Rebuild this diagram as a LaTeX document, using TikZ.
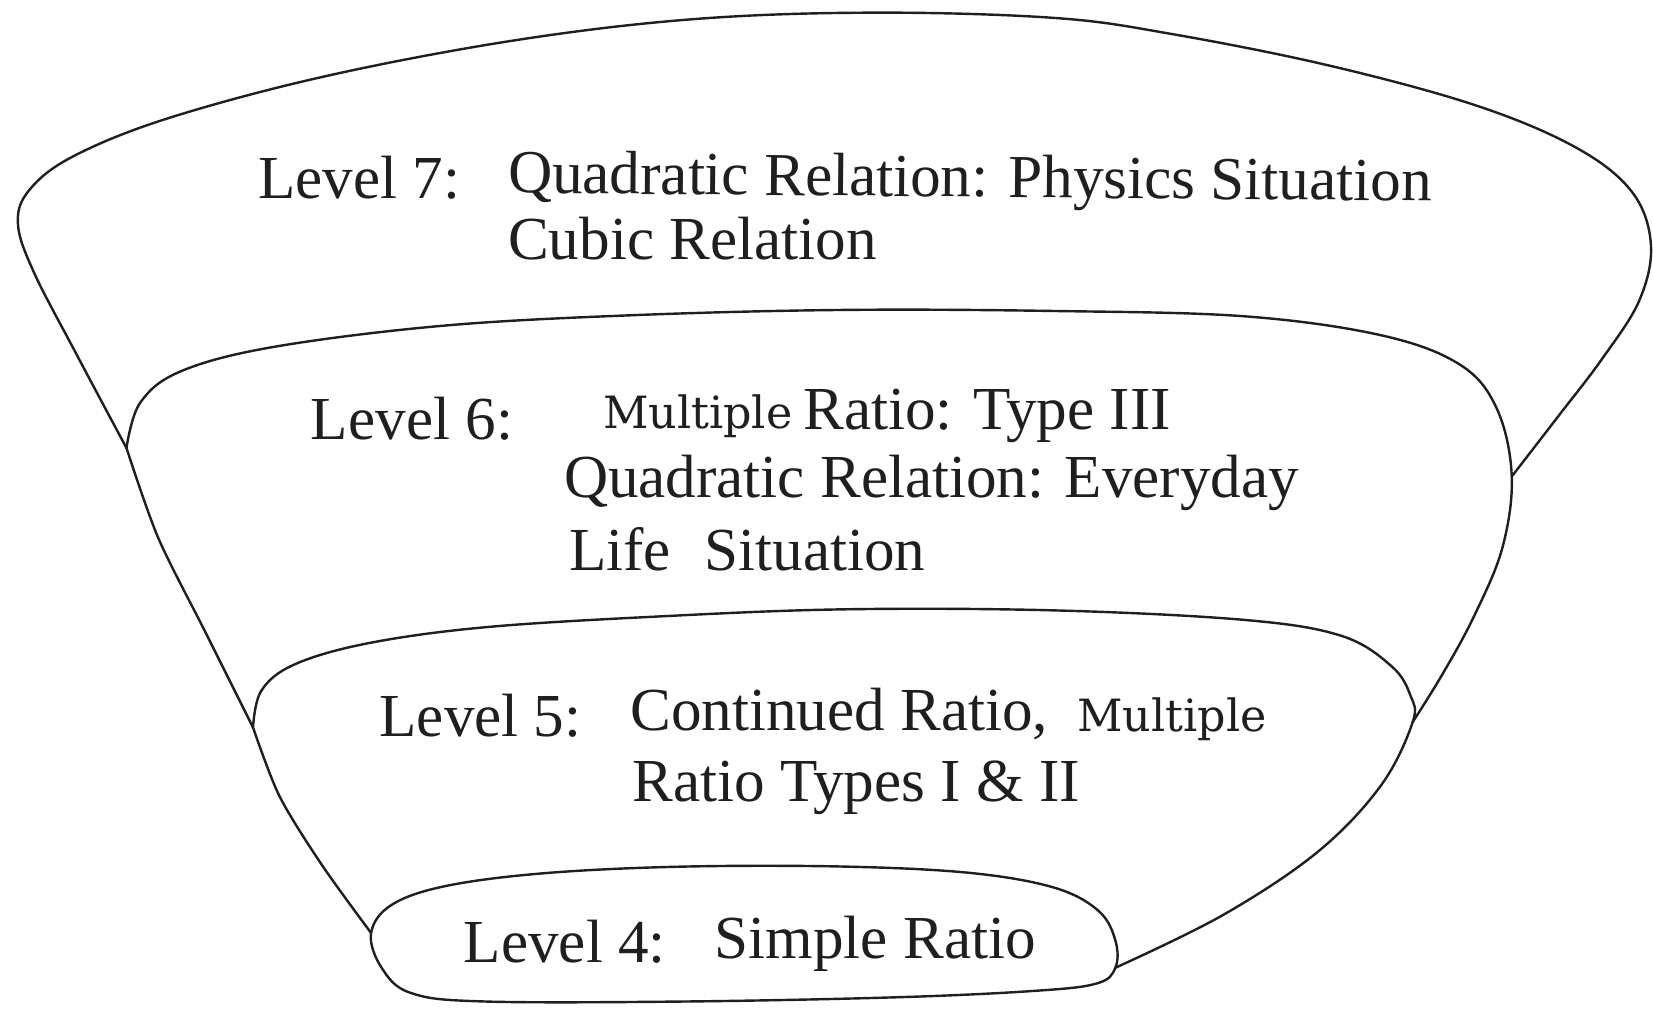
\documentclass[tikz,border=0pt]{standalone}
\usepackage{fontspec}
\setmainfont{Liberation Serif}
\newfontfamily\mfont{DejaVu Serif}
\definecolor{ink}{gray}{0.12}
\begin{document}
\begin{tikzpicture}[x=0.02cm,y=-0.02cm,
  outline/.style={draw=ink,line width=1.3pt,line join=round,line cap=round},
  txt/.style={anchor=base west,inner sep=0pt,outer sep=0pt,text=ink,font=\fontsize{33}{40}\selectfont},
  mtxt/.style={anchor=base west,inner sep=0pt,outer sep=0pt,text=ink,font=\mfont\fontsize{24}{29}\selectfont}]
\useasboundingbox (0,0) rectangle (1568,959);
% junctions
\coordinate (j6l) at (120,425);
\coordinate (j6r) at (1434,452);
\coordinate (j5l) at (240,690);
\coordinate (j5r) at (1340,685);
\coordinate (j4l) at (352,885);
\coordinate (j4r) at (1058,918);
% outer (level 7) boundary
\draw[outline] plot[smooth,tension=0.6] coordinates {(j6l) (72,335) (32,258) (17,212) (28,180) (70,148) (160,112) (310,72) (490,38) (660,18) (830,12) (1000,17) (1110,32) (1260,62) (1400,100) (1495,140) (1548,182) (1566,232) (1555,285) (1520,340) (1478,395) (j6r)};
% level 6
\draw[outline] plot[smooth,tension=0.6] coordinates {(j6l) (133,382) (172,352) (260,329) (420,309) (600,299) (800,294) (1000,295) (1180,300) (1310,318) (1385,346) (1420,388) (j6r) (1425,520) (1398,585) (1368,640) (j5r)};
\draw[outline] plot[smooth,tension=0.5] coordinates {(j6l) (150,510) (195,600) (j5l)};
% level 5
\draw[outline] plot[smooth,tension=0.6] coordinates {(j5l) (248,655) (280,630) (350,610) (460,595) (620,585) (800,578) (1000,579) (1180,588) (1272,603) (1320,632) (1338,660) (j5r) (1310,745) (1250,808) (1160,868) (j4r)};
\draw[outline] plot[smooth,tension=0.5] coordinates {(j5l) (265,755) (305,820) (j4l)};
% level 4
\draw[outline] plot[smooth cycle,tension=0.6] coordinates {(j4l) (372,858) (425,840) (520,828) (650,822) (800,822) (920,828) (1000,842) (1042,864) (1058,892) (j4r) (1040,933) (980,940) (850,946) (650,950) (460,950) (390,942) (362,918)};
% texts
\node[txt] (l7) at (245,188) {Level 7:};
\node[txt,rotate=-0.5] (t7a) at (482,183) {Quadratic Relation: Physics Situation};
\node[txt] (t7b) at (482,246) {Cubic Relation};
\node[txt] (l6) at (295,417) {Level 6:};
\node[mtxt] (t6m) at (572,406) {Multiple};
\node[txt] (t6a) at (762,407) {Ratio: Type III};
\node[txt] (t6b) at (535,472) {Quadratic Relation: Everyday};
\node[txt] (t6c) at (540,541) {Life\hspace{0.3em} Situation};
\node[txt] (l5) at (360,699) {Level 5:};
\node[txt] (t5a) at (598,693) {Continued Ratio,};
\node[mtxt] (t5m) at (1022,694) {Multiple};
\node[txt] (t5b) at (600,760) {Ratio Types I \& II};
\node[txt] (l4) at (440,913) {Level 4:};
\node[txt] (t4) at (678,909) {Simple Ratio};
\end{tikzpicture}
\end{document}
